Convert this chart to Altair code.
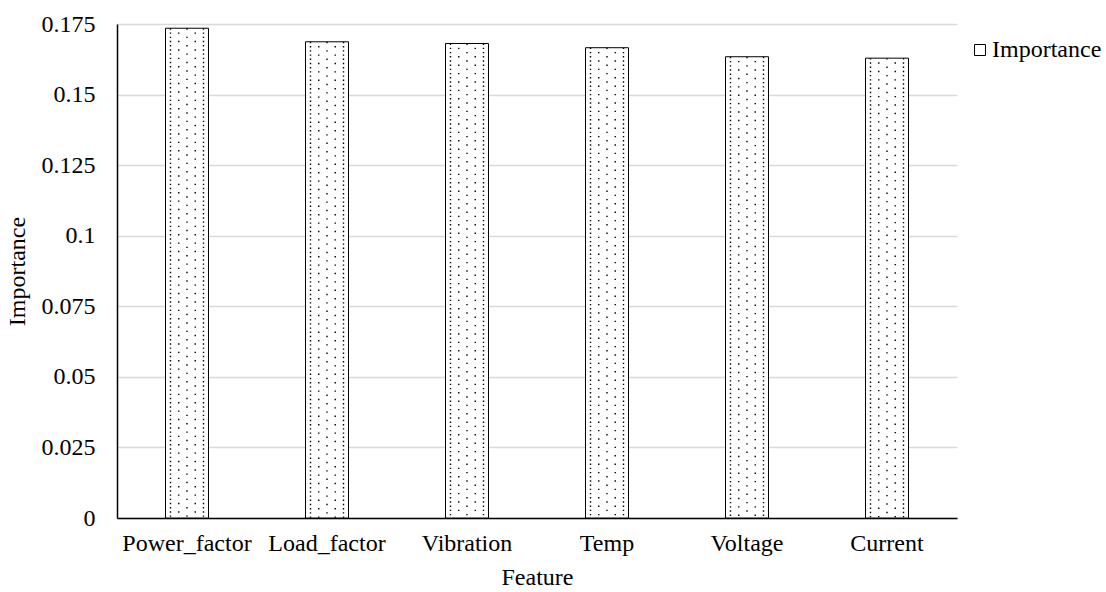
import altair as alt
import pandas as pd

features = ["Power_factor", "Load_factor", "Vibration", "Temp", "Voltage", "Current"]
importance = [0.1735, 0.1687, 0.1681, 0.1666, 0.1634, 0.1629]
series = ["Importance"] * len(features)
y_ticks = [0, 0.025, 0.05, 0.075, 0.1, 0.125, 0.15, 0.175]

df = pd.DataFrame({"Feature": features, "Importance": importance, "Series": series})

FONT = "Liberation Serif, Tinos, DejaVu Serif, serif"
FS = 24

x_enc = alt.X(
    "Feature:N",
    sort=features,
    scale=alt.Scale(paddingInner=0.693, paddingOuter=0.3465),
    axis=alt.Axis(title="Feature", labelAngle=0, ticks=False, domainColor="black",
                  domainWidth=1.5, labelPadding=13, titlePadding=10,
                  labelFont=FONT, titleFont=FONT),
)
y_enc = alt.Y(
    "Importance:Q",
    scale=alt.Scale(domain=[0, 0.175], nice=False),
    axis=alt.Axis(values=y_ticks, format=".4~g", title="Importance", ticks=False,
                  domainColor="black", domainWidth=1.5, gridColor="#d9d9d9", gridWidth=1.5,
                  labelPadding=22, titlePadding=12, labelFont=FONT, titleFont=FONT),
)

bars = alt.Chart(df).mark_bar(stroke="black", strokeWidth=1).encode(
    x=x_enc,
    y=y_enc,
    color=alt.Color(
        "Series:N",
        scale=alt.Scale(range=["white"]),
        legend=alt.Legend(title=None, orient="none", legendX=851, legendY=14,
                          symbolType="square", symbolSize=121, symbolStrokeColor="black",
                          symbolStrokeWidth=1, labelFont=FONT, labelFontSize=FS,
                          labelColor="black", labelOffset=0),
    ),
)

# (x offset in px, dash period, dash offset) -- texture of the bar fill
dot_cols = [(-16.5, 4.2, 0), (-8.25, 8.4, 4.2), (0, 8.4, 0), (8.25, 8.4, 4.2), (16.5, 4.2, 0)]
dots = []
for off, period, doff in dot_cols:
    dots.append(
        alt.Chart(df).mark_rule(color="#000", strokeWidth=1.4, strokeDash=[1.4, period - 1.4],
                                strokeDashOffset=doff, xOffset=off, strokeCap="butt").encode(
            x=x_enc,
            y=alt.Y("Importance:Q"),
            y2=alt.datum(0),
        )
    )

chart = alt.layer(bars, *dots).properties(
    width=840, height=494,
    padding={"left": 117, "top": 24, "right": 149, "bottom": 74},
    autosize=alt.AutoSizeParams(type="none"),
).configure(font=FONT).configure_view(stroke=None).configure_axis(
    labelFont=FONT, titleFont=FONT, labelFontSize=FS, titleFontSize=FS,
    labelColor="black", titleColor="black", titleFontWeight="normal",
).configure_legend(labelFont=FONT)

chart.save("out.html", embed_options={"renderer": "svg", "actions": False})
